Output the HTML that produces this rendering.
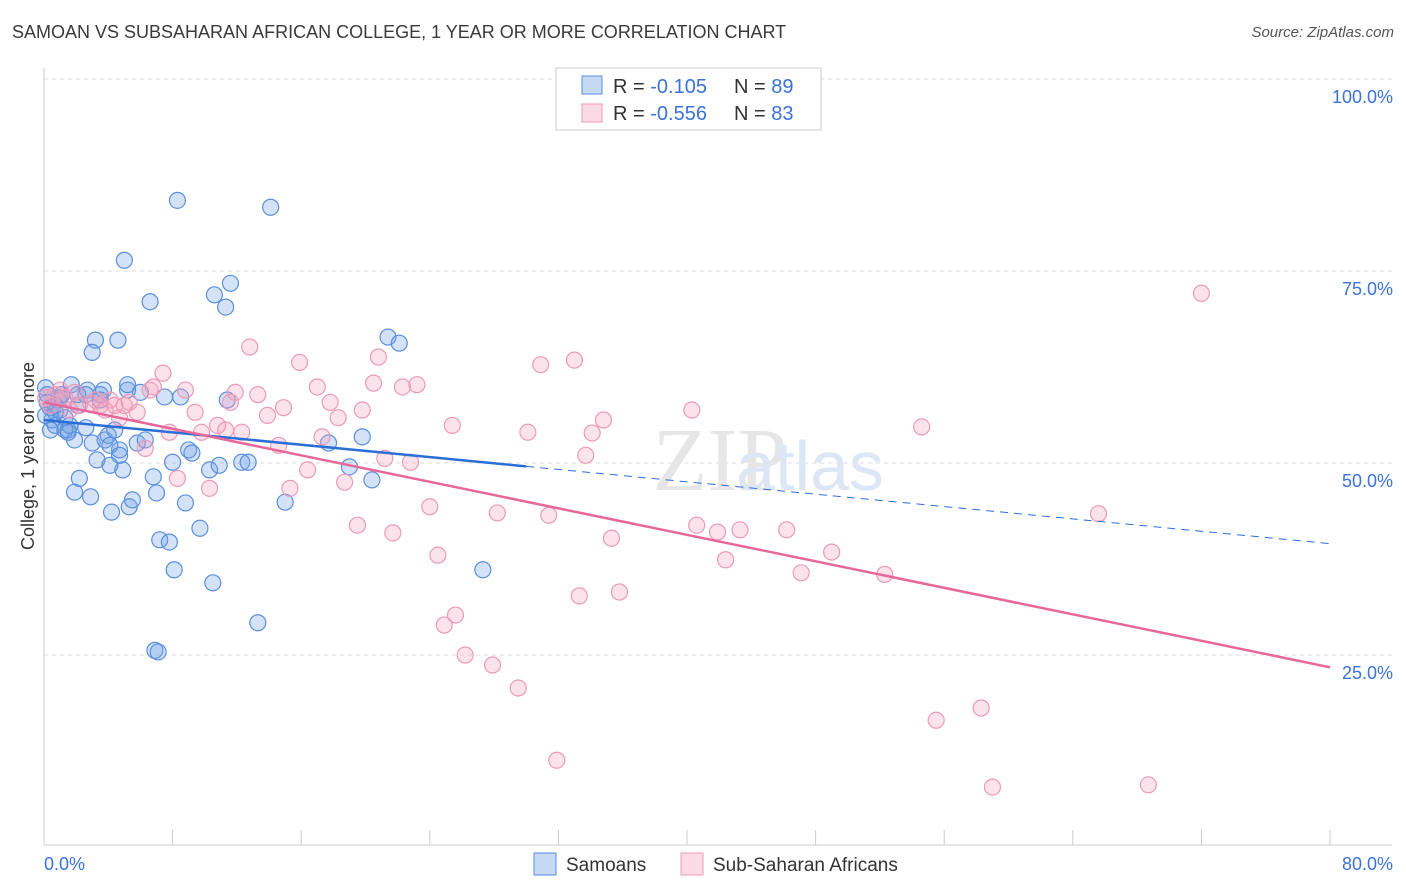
<!DOCTYPE html>
<html><head><meta charset="utf-8">
<style>
body{margin:0;background:#fff;font-family:"Liberation Sans",sans-serif;}
#wrap{position:relative;width:1406px;height:892px;overflow:hidden;}
.title{position:absolute;left:12px;top:22px;font-size:18px;color:#3a3a3a;}
.source{position:absolute;right:12px;top:24px;font-size:15px;color:#555;font-style:italic;}
</style></head>
<body><div id="wrap">
<div class="title">SAMOAN VS SUBSAHARAN AFRICAN COLLEGE, 1 YEAR OR MORE CORRELATION CHART</div>
<div class="source">Source: ZipAtlas.com</div>
<svg id="svg" width="1406" height="892" style="position:absolute;left:0;top:0"></svg>
</div>
<script>
const blueX=[0.1,0.2,0.4,0.5,0.7,0.9,1.0,1.1,1.3,1.5,1.6,1.7,1.9,2.1,2.2,1.9,2.6,2.7,2.9,3.0,3.2,3.0,3.3,3.5,3.7,3.8,4.0,4.1,4.2,4.4,4.6,4.7,4.9,5.0,5.2,5.2,5.3,5.5,5.8,6.0,6.3,6.6,6.8,6.9,7.0,7.1,7.2,7.5,7.8,8.0,8.1,8.3,8.5,8.8,9.0,9.2,9.7,10.3,10.5,10.6,10.9,11.3,11.4,11.6,12.3,12.7,13.3,14.1,15.0,17.7,19.0,19.8,20.4,21.4,22.1,27.3,0.1,0.4,0.7,1.0,1.3,1.5,2.1,2.6,3.5,4.1,4.7,0.2,0.7];
const blueY=[59.8,58.9,57.2,55.6,54.9,58.2,56.9,58.9,55.9,54.3,54.9,60.2,53.0,57.5,48.0,46.2,54.6,59.5,45.6,52.6,66.0,64.4,50.4,58.9,59.5,53.0,53.6,49.7,43.6,54.3,66.0,51.7,49.1,76.4,59.5,60.2,44.3,45.2,52.6,59.2,53.0,71.0,48.2,25.6,46.1,25.4,40.0,58.6,39.7,50.1,36.1,84.2,58.6,44.8,51.7,51.3,41.5,49.1,34.4,71.9,49.7,70.3,58.2,73.4,50.1,50.1,29.2,83.3,44.9,52.6,49.5,53.4,47.8,66.4,65.6,36.1,56.2,54.3,57.5,58.5,54.3,54.0,58.9,58.9,58.2,52.3,51.0,57.9,56.6];
const pinkX=[0.1,0.4,0.7,1.0,1.3,1.6,1.9,2.2,2.9,3.2,3.5,3.8,4.1,4.4,4.7,5.0,5.3,5.8,6.3,6.6,6.8,7.4,7.8,8.3,8.8,9.4,9.8,10.3,10.8,11.3,11.6,11.9,12.3,12.8,13.3,13.9,14.9,14.6,15.3,15.9,16.4,17.0,17.3,17.8,18.3,18.7,19.5,19.8,20.5,20.8,21.2,21.7,22.3,22.8,23.2,24.0,24.5,24.9,25.4,25.6,26.2,27.9,28.2,29.5,30.1,30.9,31.4,31.9,33.0,33.3,33.7,34.1,34.8,35.3,35.8,40.3,40.6,41.9,42.4,43.3,46.2,47.1,49.0,52.3,54.6,55.5,58.3,59.0,65.6,68.7,72.0];
const pinkY=[58.5,57.5,58.9,59.5,58.5,56.9,59.2,57.5,57.8,58.2,57.5,56.9,58.2,57.5,55.9,57.5,57.9,56.6,51.9,59.5,59.9,61.7,54.0,48.0,59.5,56.6,54.0,46.7,54.9,54.3,57.9,59.2,54.0,65.1,58.9,56.2,57.2,52.3,46.7,63.1,49.1,59.9,53.4,57.9,55.9,47.5,41.9,56.9,60.4,63.8,50.6,40.9,59.9,50.1,60.2,44.3,38.0,28.9,54.9,30.2,25.0,23.7,43.5,20.7,54.0,62.8,43.2,11.3,63.4,32.7,51.0,53.9,55.6,40.2,33.2,56.9,41.9,41.0,37.4,41.3,41.3,35.7,38.4,35.5,54.7,16.5,18.1,7.8,43.4,8.1,72.1];
const blueTrend=[55.6,39.5]; // y at x=0 and x=80
const pinkTrend=[57.9,23.4];
const blueSolidEnd=30;
const yTicks=[25,50,75,100];
const xTicksLabels=["0.0%","80.0%"];

const L=44,R=1330,T=79,B=847;
const sx=v=>L+(v/80)*(R-L);
const sy=v=>B-(v/100)*(B-T);
const svg=document.getElementById('svg');
const NS='http://www.w3.org/2000/svg';
function mk(tag,attrs,parent){const e=document.createElementNS(NS,tag);for(const k in attrs)e.setAttribute(k,attrs[k]);(parent||svg).appendChild(e);return e;}

// gridlines
for(const t of yTicks){
 const g=mk('line',{x1:L,x2:1392,y1:sy(t),y2:sy(t),stroke:'#dddddd','stroke-dasharray':'4,4'});
 
 
 const tx=mk('text',{x:1393,y:sy(t)+24,'text-anchor':'end','font-size':18,fill:'#3a72d8'});
 tx.textContent=t.toFixed(1)+'%';
 
 
}
// axes
const ax=mk('line',{x1:L,x2:L,y1:68,y2:845,stroke:'#cccccc'});


const bx=mk('line',{x1:L,x2:1392,y1:845,y2:845,stroke:'#cccccc'});


for(let i=0;i<=10;i++){
 const tk=mk('line',{x1:sx(i*8),x2:sx(i*8),y1:830,y2:845,stroke:'#cccccc'});
 
 
}
const xl0=mk('text',{x:44,y:870,'font-size':18,fill:'#3a72d8'});xl0.textContent=xTicksLabels[0];


const xl1=mk('text',{x:1393,y:870,'text-anchor':'end','font-size':18,fill:'#3a72d8'});xl1.textContent=xTicksLabels[1];


const yt=mk('text',{x:34,y:456,'text-anchor':'middle','font-size':18,fill:'#333',transform:'rotate(-90 34 456)'});yt.textContent='College, 1 year or more';


// watermark
const wm=mk('text',{x:720,y:490,'text-anchor':'middle','font-size':90,fill:'#e6e6e6','font-family':'Liberation Serif'});wm.textContent='ZIP';


const wm2=mk('text',{x:810,y:490,'text-anchor':'middle','font-size':70,fill:'#dce6f4'});wm2.textContent='atlas';



// points
blueX.forEach((x,i)=>{
 const c=mk('circle',{cx:sx(x),cy:sy(blueY[i]),r:8,fill:'rgba(110,160,230,0.3)',stroke:'#5b8fdc','stroke-width':1.2});
 
 
});
pinkX.forEach((x,i)=>{
 const c=mk('circle',{cx:sx(x),cy:sy(pinkY[i]),r:8,fill:'rgba(245,160,190,0.3)',stroke:'#ec9ab7','stroke-width':1.2});
 
 
});
// trends
const by=x=>blueTrend[0]+(blueTrend[1]-blueTrend[0])*x/80;
const py=x=>pinkTrend[0]+(pinkTrend[1]-pinkTrend[0])*x/80;
const t1=mk('line',{x1:sx(0),y1:sy(by(0)),x2:sx(blueSolidEnd),y2:sy(by(blueSolidEnd)),stroke:'#2a6ed8','stroke-width':2.5});


const t2=mk('line',{x1:sx(blueSolidEnd),y1:sy(by(blueSolidEnd)),x2:sx(80),y2:sy(by(80)),stroke:'#2a6ed8','stroke-width':1,'stroke-dasharray':'8,6'});


const t3=mk('line',{x1:sx(0),y1:sy(py(0)),x2:sx(80),y2:sy(py(80)),stroke:'#e8679a','stroke-width':2.5});



// legend box
const lg=mk('g',{});


mk('rect',{x:556,y:68,width:265,height:62,fill:'#fff',stroke:'#cccccc'},lg);
mk('rect',{x:582,y:76,width:20,height:18,fill:'rgba(110,160,230,0.4)',stroke:'#5b8fdc'},lg);
mk('rect',{x:582,y:104,width:20,height:18,fill:'rgba(245,160,190,0.4)',stroke:'#ec9ab7'},lg);
const rows=[['-0.105','89',93],['-0.556','83',120]];
rows.forEach(r=>{
 const t=mk('text',{x:613,y:r[2],'font-size':20,fill:'#333'},lg);
 t.innerHTML='R = <tspan fill="#3a72d8">'+r[0]+'</tspan><tspan x="734">N = </tspan><tspan fill="#3a72d8">'+r[1]+'</tspan>';
 
 
});
// bottom legend
const b1=mk('rect',{x:534,y:853,width:22,height:22,fill:'rgba(110,160,230,0.4)',stroke:'#5b8fdc'});


const bt1=mk('text',{x:566,y:871,'font-size':19,fill:'#333'});bt1.textContent='Samoans';


const b2=mk('rect',{x:681,y:853,width:22,height:22,fill:'rgba(245,160,190,0.4)',stroke:'#ec9ab7'});


const bt2=mk('text',{x:713,y:871,'font-size':19,fill:'#333'});bt2.textContent='Sub-Saharan Africans';


</script>
</body></html>
